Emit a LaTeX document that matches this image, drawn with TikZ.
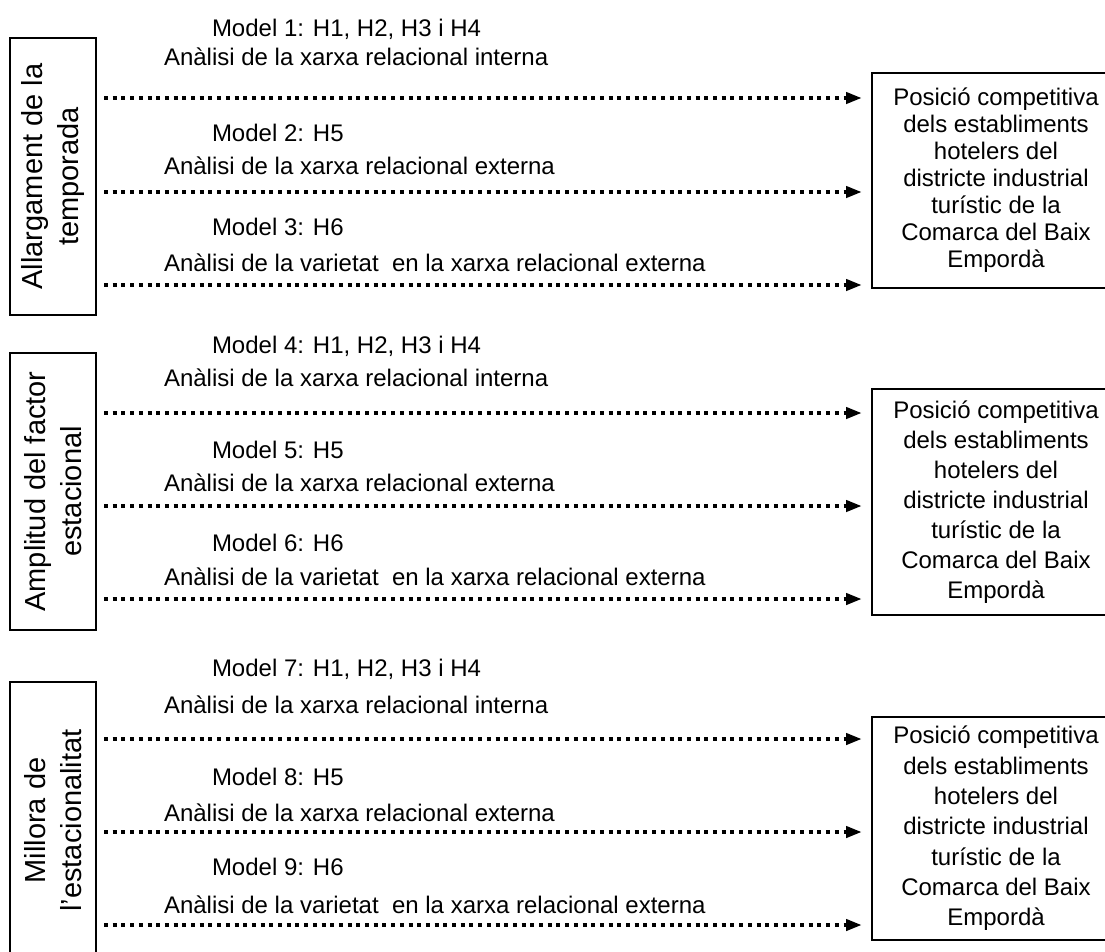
\documentclass[tikz,border=0pt]{standalone}
\usepackage{fontspec}
\setmainfont{Liberation Sans}
\usetikzlibrary{arrows.meta}
\newcommand{\sidefont}{\fontsize{29}{36.7}\selectfont}
\newcommand{\bodyfont}{\fontsize{24}{28}\selectfont}
\begin{document}
\begin{tikzpicture}[x=1pt,y=-1pt,
  every node/.style={inner sep=0pt, outer sep=0pt},
  txt/.style={anchor=base west, font=\bodyfont},
  sidebox/.style={draw, line width=1.3pt, rotate=90, minimum width=277pt,
    minimum height=86pt, align=center},
  goalbox/.style={draw, line width=1.3pt, minimum width=248pt,
    minimum height=#1, align=center},
  flow/.style={line width=4pt, dash pattern=on 4pt off 4.7pt,
    -{Triangle[length=16pt,width=11pt]}, shorten >=10pt}
]
\useasboundingbox (0,0) rectangle (1105,951);

% left blocks (rotated titles)
\node[sidebox, font=\sidefont] (lb1) at (53,176.5) {Allargament de la\\temporada};
\node[sidebox, font=\sidefont] (lb2) at (53,491.5) {Amplitud del factor\\estacional};
\node[sidebox, font=\sidefont] (lb3) at (53,820.5) {Millora de\\l’estacionalitat};

% right blocks
\node[goalbox=215pt, font=\fontsize{24}{27}\selectfont] (rb1) at (996,180.5)
  {Posició competitiva\\dels establiments\\hotelers del\\districte industrial\\turístic de la\\Comarca del Baix\\Empordà};
\node[goalbox=226pt, font=\fontsize{24}{30}\selectfont] (rb2) at (996,502)
  {Posició competitiva\\dels establiments\\hotelers del\\districte industrial\\turístic de la\\Comarca del Baix\\Empordà};
\node[goalbox=223pt, font=\fontsize{24}{30.3}\selectfont] (rb3) at (996,828.5)
  {Posició competitiva\\dels establiments\\hotelers del\\districte industrial\\turístic de la\\Comarca del Baix\\Empordà};

% model labels
\node[txt] (m1) at (212,36.5) {Model 1: H1, H2, H3 i H4};
\node[txt] (a1) at (164,65.5) {Anàlisi de la xarxa relacional interna};
\node[txt] (m2) at (212,141.5) {Model 2: H5};
\node[txt] (a2) at (164,174.5) {Anàlisi de la xarxa relacional externa};
\node[txt] (m3) at (212,235.5) {Model 3: H6};
\node[txt] (a3) at (164,271.5) {Anàlisi de la varietat\ \ en la xarxa relacional externa};

\node[txt] (m4) at (212,353.5) {Model 4: H1, H2, H3 i H4};
\node[txt] (a4) at (164,386.5) {Anàlisi de la xarxa relacional interna};
\node[txt] (m5) at (212,458.5) {Model 5: H5};
\node[txt] (a5) at (164,491.5) {Anàlisi de la xarxa relacional externa};
\node[txt] (m6) at (212,551.5) {Model 6: H6};
\node[txt] (a6) at (164,585.5) {Anàlisi de la varietat\ \ en la xarxa relacional externa};

\node[txt] (m7) at (212,676.5) {Model 7: H1, H2, H3 i H4};
\node[txt] (a7) at (164,713.5) {Anàlisi de la xarxa relacional interna};
\node[txt] (m8) at (212,785.5) {Model 8: H5};
\node[txt] (a8) at (164,821.5) {Anàlisi de la xarxa relacional externa};
\node[txt] (m9) at (212,875.5) {Model 9: H6};
\node[txt] (a9) at (164,913.5) {Anàlisi de la varietat\ \ en la xarxa relacional externa};

% connector start points
\coordinate (s1) at (104,98);
\coordinate (s2) at (104,192);
\coordinate (s3) at (104,285);
\coordinate (s4) at (104,413);
\coordinate (s5) at (104,506);
\coordinate (s6) at (104,599);
\coordinate (s7) at (104,739);
\coordinate (s8) at (104,832);
\coordinate (s9) at (104,925);

\draw[flow] (s1) -- (s1 -| rb1.west);
\draw[flow] (s2) -- (s2 -| rb1.west);
\draw[flow] (s3) -- (s3 -| rb1.west);
\draw[flow] (s4) -- (s4 -| rb2.west);
\draw[flow] (s5) -- (s5 -| rb2.west);
\draw[flow] (s6) -- (s6 -| rb2.west);
\draw[flow] (s7) -- (s7 -| rb3.west);
\draw[flow] (s8) -- (s8 -| rb3.west);
\draw[flow] (s9) -- (s9 -| rb3.west);
\end{tikzpicture}
\end{document}
